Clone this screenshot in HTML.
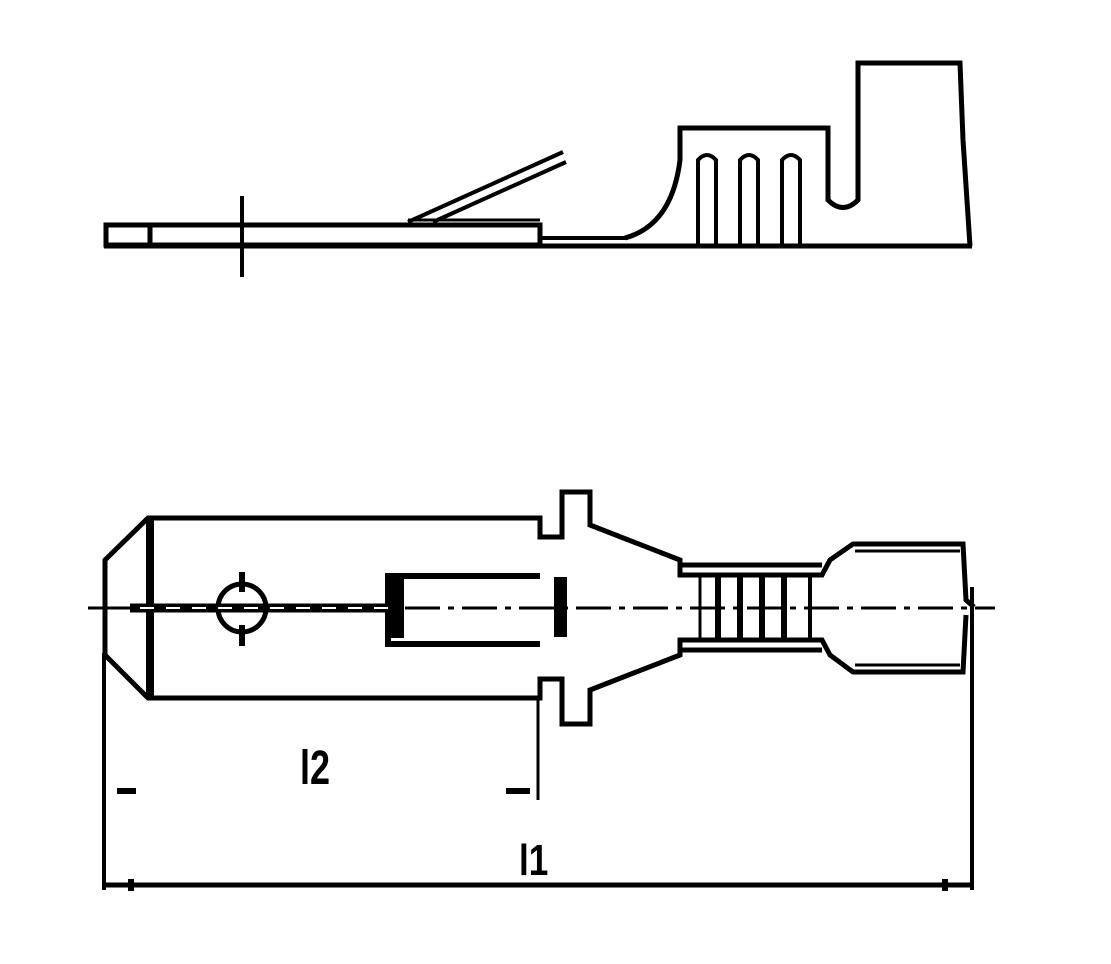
<!DOCTYPE html>
<html><head><meta charset="utf-8"><style>
html,body{margin:0;padding:0;background:#fff}
svg{display:block}
</style></head><body>
<svg width="1111" height="964" viewBox="0 0 1111 964" xmlns="http://www.w3.org/2000/svg">
<g fill="none" stroke="#000" stroke-width="5" stroke-linejoin="miter">
<!-- TOP VIEW -->
<rect x="106" y="225" width="434" height="20"/>
<line x1="150" y1="225" x2="150" y2="245"/>
<line x1="242" y1="196" x2="242" y2="277" stroke-width="4"/>
<line x1="104" y1="246" x2="972" y2="246"/>
<line x1="540" y1="238" x2="628" y2="238" stroke-width="4"/>
<path d="M625 238 Q672 225 680 160 L680 128 L828 128 L828 200 Q843 215 858 200 L858 63 L960 63 L963 140 L970 246"/>
<path d="M698 246 L698 160 Q707 150 716 160 L716 246 M740 246 L740 160 Q749 150 758 160 L758 246 M782 246 L782 160 Q791 150 800 160 L800 246" stroke-width="4"/>
<line x1="408" y1="222" x2="563" y2="152" stroke-width="4"/>
<line x1="433" y1="222" x2="566" y2="162" stroke-width="4"/>
<line x1="408" y1="220" x2="540" y2="220" stroke-width="3"/>

<!-- BOTTOM VIEW -->
<path d="M105 653 L105 560 L148 518 L540 518 L540 537 L562 537 L562 492 L590 492 L590 525 L680 560 L680 575 L822 575 L830 560 L853 544 L963 544 L966 600 L974 607"/>
<path d="M105 560 L105 655 L148 698 L540 698 L540 679 L562 679 L562 724 L590 724 L590 690 L680 655 L680 640 L822 640 L830 655 L853 672 L963 672 L966 615"/>
<line x1="150" y1="518" x2="150" y2="698" stroke-width="8"/>
<line x1="682" y1="565" x2="822" y2="565"/>
<line x1="682" y1="650" x2="822" y2="650"/>
<line x1="855" y1="551" x2="960" y2="551" stroke-width="3"/>
<line x1="855" y1="665" x2="960" y2="665" stroke-width="3"/>
<line x1="972" y1="587" x2="972" y2="890" stroke-width="4"/>
<line x1="700" y1="577" x2="700" y2="640" stroke-width="3"/>
<line x1="718" y1="577" x2="718" y2="640" stroke-width="6"/>
<line x1="740" y1="577" x2="740" y2="640" stroke-width="6"/>
<line x1="762" y1="577" x2="762" y2="640" stroke-width="6"/>
<line x1="784" y1="577" x2="784" y2="640" stroke-width="6"/>
<line x1="810" y1="577" x2="810" y2="640" stroke-width="4"/>
<!-- slot -->
<path d="M540 576 L388 576 L388 644 L540 644" stroke-width="6"/>
<rect x="389" y="576" width="15" height="62" fill="#000" stroke="none"/>
<rect x="554" y="577" width="13" height="60" fill="#000" stroke="none"/>
<!-- hole -->
<circle cx="242" cy="608" r="24" stroke-width="5"/>
<line x1="242" y1="572" x2="242" y2="592" stroke-width="6"/>
<line x1="242" y1="625" x2="242" y2="646" stroke-width="6"/>
<!-- centerline -->
<line x1="130" y1="608" x2="390" y2="608" stroke-width="9"/>
<line x1="140" y1="608" x2="390" y2="608" stroke="#fff" stroke-width="2" stroke-dasharray="14 12"/>
<line x1="88" y1="608" x2="130" y2="608" stroke-width="3"/>
<line x1="405" y1="608" x2="995" y2="608" stroke-width="3" stroke-dasharray="35 8 6 8"/>
<!-- dimensions -->
<line x1="104" y1="653" x2="104" y2="890" stroke-width="4"/>
<line x1="538" y1="698" x2="538" y2="800" stroke-width="3"/>
<line x1="117" y1="791" x2="136" y2="791" stroke-width="6"/>
<line x1="506" y1="791" x2="530" y2="791" stroke-width="6"/>
<line x1="104" y1="885" x2="972" y2="885" stroke-width="5"/>
<line x1="131" y1="879" x2="131" y2="891" stroke-width="6"/>
<line x1="945" y1="879" x2="945" y2="891" stroke-width="6"/>
</g>
<text x="300" y="784" font-family="Liberation Sans, sans-serif" font-size="48" font-weight="bold" transform="translate(300 0) scale(0.75 1) translate(-300 0)">l2</text>
<text x="519" y="875" font-family="Liberation Sans, sans-serif" font-size="44" font-weight="bold" transform="translate(519 0) scale(0.8 1) translate(-519 0)">l1</text>
</svg>
</body></html>
